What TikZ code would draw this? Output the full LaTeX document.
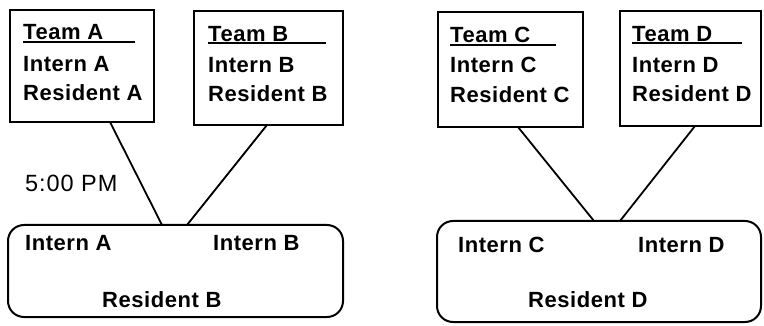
\documentclass[tikz,border=0pt]{standalone}
\usepackage{fontspec}
\setmainfont{Liberation Sans}
\newfontfamily\spacedfont[LetterSpace=2.5]{Liberation Sans}
\newfontfamily\widefont[LetterSpace=4]{Liberation Sans}
\begin{document}
\begin{tikzpicture}[x=1pt,y=-1pt,
  team/.style={draw,line width=2pt,rectangle,inner sep=0pt},
  pool/.style={draw,line width=2pt,rectangle,rounded corners=16pt,inner sep=0pt},
  link/.style={line width=1.8pt},
  txt/.style={anchor=base west,inner sep=0pt,font=\spacedfont\fontsize{22}{24}\selectfont\bfseries},
  lbl/.style={anchor=base west,inner sep=0pt,font=\widefont\fontsize{23.5}{26}\selectfont},
  uline/.style={line width=1.4pt}]
\useasboundingbox (0,0) rectangle (764,326);
% team boxes
\node[team,minimum width=144pt,minimum height=112pt] (boxA) at (82,66) {};
\node[team,minimum width=149pt,minimum height=114pt] (boxB) at (268.5,68) {};
\node[team,minimum width=145pt,minimum height=115pt] (boxC) at (510.5,69.5) {};
\node[team,minimum width=141pt,minimum height=115pt] (boxD) at (690.5,68.5) {};
% pool boxes
\node[pool,minimum width=335pt,minimum height=92pt] (poolAB) at (175.5,271) {};
\node[pool,minimum width=324pt,minimum height=101pt] (poolCD) at (599,271.5) {};
% team texts
\node[txt] (tA) at (23,40) {Team A};
\node[txt] (iA) at (23,72) {Intern A};
\node[txt] (rA) at (23,101) {Resident A};
\draw[uline] (23,42) -- (135,42);
\node[txt] (tB) at (208,42) {Team B};
\node[txt] (iB) at (208,73) {Intern B};
\node[txt] (rB) at (208,102) {Resident B};
\draw[uline] (208,43) -- (326,43);
\node[txt] (tC) at (450,43) {Team C};
\node[txt] (iC) at (450,73) {Intern C};
\node[txt] (rC) at (450,103) {Resident C};
\draw[uline] (450,45) -- (556,45);
\node[txt] (tD) at (632,42) {Team D};
\node[txt] (iD) at (632,73) {Intern D};
\node[txt] (rD) at (632,102) {Resident D};
\draw[uline] (632,43) -- (742,43);
% pool texts
\node[txt] (piA) at (25,251) {Intern A};
\node[txt] (piB) at (213,251) {Intern B};
\node[txt] (prB) at (102,308) {Resident B};
\node[txt] (piC) at (458,252) {Intern C};
\node[txt] (piD) at (638,252) {Intern D};
\node[txt] (prD) at (528,307) {Resident D};
% time label
\node[lbl] (time) at (25,192) {5:00 PM};
% connector endpoints
\coordinate (a1) at (110,122);
\coordinate (a2) at (162,225);
\coordinate (b1) at (267,125);
\coordinate (b2) at (187,225);
\coordinate (c1) at (518,127);
\coordinate (c2) at (594,221);
\coordinate (d1) at (695,126);
\coordinate (d2) at (620,221);
\draw[link] (a1) -- (a2);
\draw[link] (b1) -- (b2);
\draw[link] (c1) -- (c2);
\draw[link] (d1) -- (d2);
\end{tikzpicture}
\end{document}
